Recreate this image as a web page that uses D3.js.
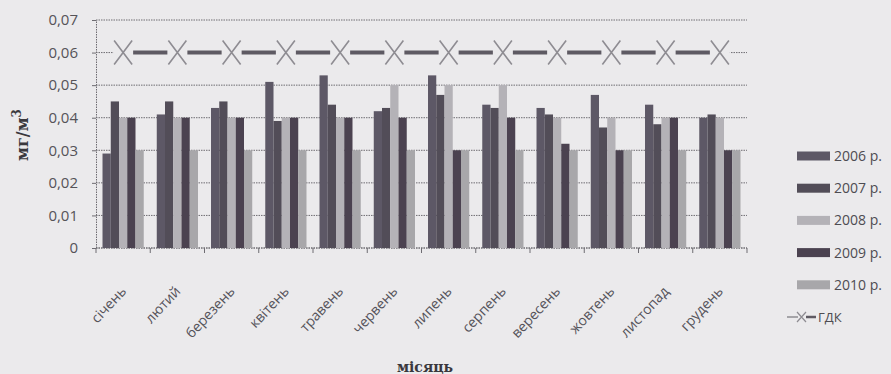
<!DOCTYPE html>
<html>
<head>
<meta charset="utf-8">
<script src="https://cdn.jsdelivr.net/npm/d3@7/dist/d3.min.js"></script>
<style>
  html, body { margin: 0; padding: 0; background: #ebeaec; }
  svg { display: block; }
</style>
</head>
<body>
<svg id="chart" width="891" height="374"></svg>
<script>
// Monthly average concentration, mg/m³, by year
const months = ["січень", "лютий", "березень", "квітень", "травень", "червень",
                "липень", "серпень", "вересень", "жовтень", "листопад", "грудень"];
const years = ["2006 р.", "2007 р.", "2008 р.", "2009 р.", "2010 р."];
const v2006 = [0.029, 0.041, 0.043, 0.051, 0.053, 0.042, 0.053, 0.044, 0.043, 0.047, 0.044, 0.040];
const v2007 = [0.045, 0.045, 0.045, 0.039, 0.044, 0.043, 0.047, 0.043, 0.041, 0.037, 0.038, 0.041];
const v2008 = [0.040, 0.040, 0.040, 0.040, 0.040, 0.050, 0.050, 0.050, 0.040, 0.040, 0.040, 0.040];
const v2009 = [0.040, 0.040, 0.040, 0.040, 0.040, 0.040, 0.030, 0.040, 0.032, 0.030, 0.040, 0.030];
const v2010 = [0.030, 0.030, 0.030, 0.030, 0.030, 0.030, 0.030, 0.030, 0.030, 0.030, 0.030, 0.030];
const gdk = [0.06, 0.06, 0.06, 0.06, 0.06, 0.06, 0.06, 0.06, 0.06, 0.06, 0.06, 0.06];
const gdkLabel = "ГДК";
const yTicks = [0, 0.01, 0.02, 0.03, 0.04, 0.05, 0.06, 0.07];
const seriesValues = [v2006, v2007, v2008, v2009, v2010];
const colors = ["#5d5866", "#524d58", "#b4b2b7", "#4b4250", "#a8a7aa"];

const svg = d3.select("#chart");
const bg = "#ebeaec";
const plotLeft = 96, plotRight = 747, plotTop = 20, plotBottom = 248;

const x = d3.scaleBand().domain(months).range([plotLeft, plotRight]).paddingInner(0.24).paddingOuter(0.12);
const xc = d3.scaleBand().domain(months).range([plotLeft, plotRight]);
const xs = d3.scaleBand().domain(years).range([0, x.bandwidth()]);
const y = d3.scaleLinear().domain([0, 0.07]).range([plotBottom, plotTop]);

const fmt = d => d === 0 ? "0" : d3.format(".2f")(d).replace(".", ",");

// Horizontal dotted gridlines
svg.append("g").selectAll("line").data(yTicks).join("line")
  .attr("x1", plotLeft).attr("x2", plotRight)
  .attr("y1", d => y(d)).attr("y2", d => y(d))
  .attr("stroke", "#6e6c72").attr("stroke-width", 1).attr("stroke-dasharray", "1.5,1");

// Y axis
const yAxis = svg.append("g").attr("transform", `translate(${plotLeft},0)`)
  .call(d3.axisLeft(y).tickValues(yTicks).tickFormat(fmt).tickSize(4).tickPadding(14));
yAxis.select(".domain").attr("stroke", "#6e6c72").attr("stroke-dasharray", "1.5,1");
yAxis.selectAll(".tick line").attr("stroke", "#6e6c72");
yAxis.selectAll("text").attr("fill", "#555358").attr("font-family", "Open Sans, sans-serif").attr("font-size", 15);

// X axis: ticks at category boundaries
const bounds = months.map(m => xc(m)).concat([plotRight]);
const xAxisG = svg.append("g");
xAxisG.append("line").attr("x1", plotLeft).attr("x2", plotRight).attr("y1", plotBottom).attr("y2", plotBottom)
  .attr("stroke", "#6e6c72").attr("stroke-dasharray", "1.5,1");
xAxisG.selectAll("line.t").data(bounds).join("line").attr("class", "t")
  .attr("x1", d => d).attr("x2", d => d).attr("y1", plotBottom).attr("y2", plotBottom + 5)
  .attr("stroke", "#6e6c72");

// Bars
const groups = svg.append("g").selectAll("g").data(months).join("g")
  .attr("transform", m => `translate(${x(m)},0)`);
groups.selectAll("rect").data((m, i) => years.map((yr, k) => ({ yr, k, v: seriesValues[k][i] })))
  .join("rect")
  .attr("x", d => xs(d.yr)).attr("width", xs.bandwidth())
  .attr("y", d => y(d.v)).attr("height", d => plotBottom - y(d.v))
  .attr("fill", d => colors[d.k]);

// Limit value line with X markers
const cx = m => xc(m) + xc.bandwidth() / 2;
const gdkPts = months.map((m, i) => [cx(m), y(gdk[i])]);
svg.append("path").attr("d", d3.line()(gdkPts))
  .attr("fill", "none").attr("stroke", "#5e5a63").attr("stroke-width", 4);
const mk = svg.append("g").selectAll("g").data(gdkPts).join("g")
  .attr("transform", d => `translate(${d[0]},${d[1]})`);
mk.append("rect").attr("x", -10).attr("y", -3).attr("width", 20).attr("height", 6).attr("fill", bg);
mk.append("path").attr("d", "M-9,-12L9,12M-9,12L9,-12")
  .attr("stroke", "#8e8c92").attr("stroke-width", 1.6).attr("fill", "none");

// Month labels
svg.append("g").selectAll("text").data(months).join("text")
  .attr("transform", m => `translate(${cx(m) + 4},${plotBottom + 44}) rotate(-47)`)
  .attr("text-anchor", "end")
  .attr("fill", "#55535a").attr("font-family", "Open Sans, sans-serif").attr("font-size", 14)
  .text(m => m);

// Axis titles
svg.append("text").attr("x", 425).attr("y", 372).attr("text-anchor", "middle")
  .attr("font-family", "DejaVu Serif, serif").attr("font-weight", "bold").attr("font-size", 14)
  .attr("fill", "#3a383d").text("місяць");
const yt = svg.append("text").attr("transform", "translate(28,135) rotate(-90)")
  .attr("text-anchor", "middle")
  .attr("font-family", "DejaVu Serif, serif").attr("font-weight", "bold").attr("font-size", 16)
  .attr("fill", "#3a383d");
yt.append("tspan").text("мг/м");
yt.append("tspan").attr("dy", -7).attr("font-size", 12).text("3");

// Legend
const lg = svg.append("g");
const ly = d3.scaleLinear().domain([0, 5]).range([156, 317]);
years.forEach((yr, k) => {
  lg.append("rect").attr("x", 797).attr("y", ly(k) - 4.5).attr("width", 33).attr("height", 9).attr("fill", colors[k]);
  lg.append("text").attr("x", 834).attr("y", ly(k) + 5)
    .attr("font-family", "Open Sans, sans-serif").attr("font-size", 14).attr("fill", "#4e4c52").text(yr);
});
const gy = ly(5);
lg.append("line").attr("x1", 787).attr("x2", 798).attr("y1", gy).attr("y2", gy).attr("stroke", "#8e8c92").attr("stroke-width", 1.5);
lg.append("line").attr("x1", 806).attr("x2", 816).attr("y1", gy).attr("y2", gy).attr("stroke", "#5e5a63").attr("stroke-width", 2.5);
lg.append("path").attr("d", `M797,${gy - 5}L806,${gy + 5}M797,${gy + 5}L806,${gy - 5}`).attr("stroke", "#8e8c92").attr("stroke-width", 1.2);
lg.append("text").attr("x", 818).attr("y", gy + 5)
  .attr("font-family", "Open Sans, sans-serif").attr("font-size", 13).attr("fill", "#4e4c52").text(gdkLabel);
</script>
</body>
</html>
